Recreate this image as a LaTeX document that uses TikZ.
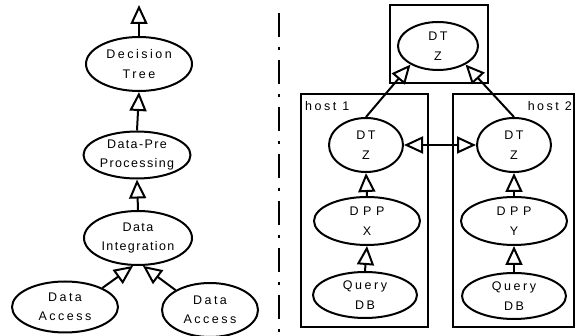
\documentclass[tikz,border=0pt]{standalone}
\usepackage{fontspec}
\setmainfont{Liberation Sans}[LetterSpace=20]
\usetikzlibrary{arrows.meta,shapes.geometric}
\tikzset{
  oval/.style={ellipse, draw, line width=2pt, inner sep=0pt, align=center,
    font=\fontsize{12.5}{19.5}\selectfont},
  tight/.style={font=\fontsize{12.5}{19.5}\selectfont\addfontfeatures{LetterSpace=11}},
  boxnode/.style={draw, line width=2pt, inner sep=0pt},
  lbl/.style={inner sep=0pt, font=\fontsize{12.5}{15}\selectfont},
  opentip/.tip={Triangle[open, length=19pt, width=17pt, fill=white]},
  link/.style={line width=2pt, -opentip},
  duolink/.style={line width=2pt, opentip-opentip},
  sep/.style={line width=2pt, dash pattern=on 24pt off 10pt on 3pt off 10pt}
}
\newcommand{\widesp}[1]{{\addfontfeatures{LetterSpace=37}#1}}
\begin{document}
\begin{tikzpicture}[x=1pt, y=-1pt]
\useasboundingbox (0,0) rectangle (576,336);
% left side
\node[oval, minimum width=106pt, minimum height=54pt] (dt) at (139,64) {Decision\\Tree};
\node[oval, tight, minimum width=107pt, minimum height=47pt] (dpp) at (137,155) {Data-Pre\\Processing};
\node[oval, tight, minimum width=108pt, minimum height=54pt] (di) at (138,238) {Data\\Integration};
\node[oval, minimum width=106pt, minimum height=51pt] (da1) at (65,307) {Data\\Access};
\node[oval, minimum width=96pt, minimum height=54pt] (da2) at (210,310) {Data\\Access};
\coordinate (out) at (139,5);
\draw[link] (dt.north) -- (out);
\draw[link] (dpp.north) -- (dt.south);
\draw[link] (di.north) -- (dpp.south);
\draw[link] (da1.27) -- (di.260);
\draw[link] (da2.150) -- (di.280);
% separator
\coordinate (s1) at (279,13);
\coordinate (s2) at (279,336);
\draw[sep] (s1) -- (s2);
% right side boxes
\node[boxnode, minimum width=98pt, minimum height=78pt] (topbox) at (439,44) {};
\node[boxnode, minimum width=127pt, minimum height=233pt] (host1) at (364.5,210.5) {};
\node[boxnode, minimum width=121pt, minimum height=233pt] (host2) at (513.5,210.5) {};
\node[lbl, anchor=north west] (h1lbl) at (305,101) {host 1};
\node[lbl, anchor=north east] (h2lbl) at (572,101) {host 2};
% right side ovals
\node[oval, minimum width=80pt, minimum height=48pt] (topdt) at (438,46) {DT\\Z};
\node[oval, minimum width=74pt, minimum height=54pt] (h1dt) at (366,145) {DT\\Z};
\node[oval, minimum width=74pt, minimum height=54pt] (h2dt) at (514,145) {DT\\Z};
\node[oval, minimum width=106pt, minimum height=48pt] (dppx) at (367,221) {\widesp{DPP}\\X};
\node[oval, minimum width=106pt, minimum height=48pt] (dppy) at (514,221) {\widesp{DPP}\\Y};
\node[oval, minimum width=104pt, minimum height=46pt] (q1) at (365,295) {Query\\DB};
\node[oval, minimum width=104pt, minimum height=46pt] (q2) at (514,296) {Query\\DB};
\draw[link] (h1dt.north) -- (topdt.214);
\draw[link] (h2dt.north) -- (topdt.326);
\draw[duolink] (h1dt.east) -- (h2dt.west);
\draw[link] (dppx.north) -- (h1dt.south);
\draw[link] (dppy.north) -- (h2dt.south);
\draw[link] (q1.north) -- (dppx.south);
\draw[link] (q2.north) -- (dppy.south);
\end{tikzpicture}
\end{document}
